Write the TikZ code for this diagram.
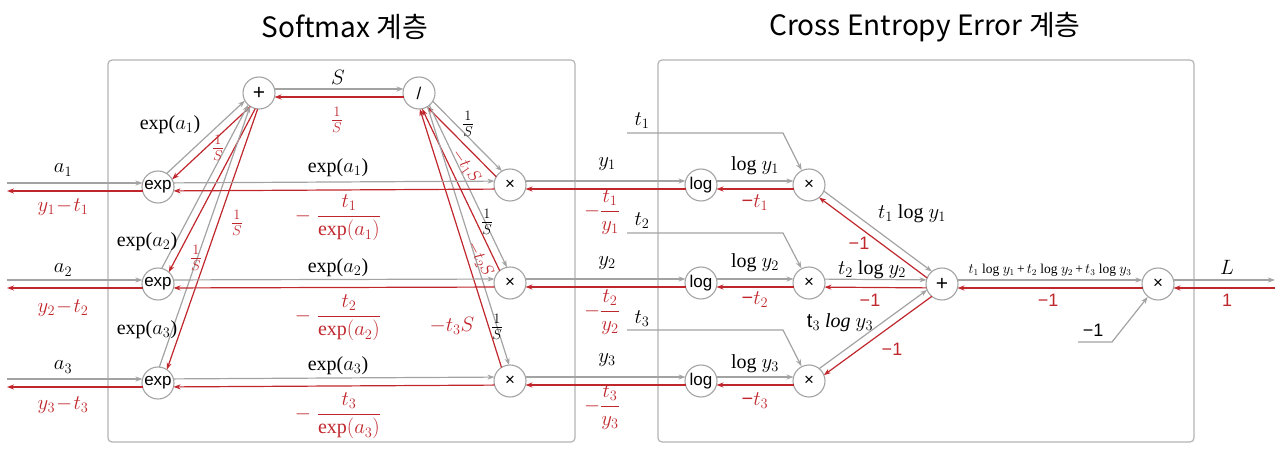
\documentclass[tikz,border=0pt]{standalone}
\usepackage{fontspec}
\setmainfont{Liberation Serif}
\setsansfont{Liberation Sans}
\newfontfamily\kr{Noto Sans CJK KR}
\usetikzlibrary{calc,arrows.meta}
\definecolor{cred}{RGB}{192,39,45}
\definecolor{cgray}{RGB}{163,163,163}
\definecolor{cbox}{RGB}{180,180,180}
\tikzset{
 op/.style={circle, draw=cgray, fill=white, line width=1.1pt, minimum size=32pt, inner sep=0pt, font=\sffamily\fontsize{17}{17}\selectfont},
 lab/.style={font=\fontsize{20}{24}\selectfont, inner sep=1pt},
 rlab/.style={lab, text=cred},
 fr/.style={font=\fontsize{21}{23}\selectfont, inner sep=1pt},
 rfr/.style={fr, text=cred},
 rot/.style={font=\fontsize{18}{20}\selectfont, inner sep=0pt, text=cred},
 slab/.style={font=\sffamily\fontsize{18}{20}\selectfont, inner sep=1pt, text=cred},
 pr/.style={line width=1.2pt, -{Stealth[length=7pt,width=5pt]}, shorten >=15.5pt, shorten <=15.5pt,
   to path={($(\tikztostart)!4pt!90:(\tikztotarget)$) -- ($(\tikztotarget)!4pt!-90:(\tikztostart)$) \tikztonodes}},
 fw/.style={pr, draw=cgray},
 bw/.style={pr, draw=cred},
 pl/.style={line width=1.2pt, draw=cgray, -{Stealth[length=7pt,width=5pt]}},
 layer/.style={draw=cbox, line width=1.2pt, rounded corners=4pt},
 title/.style={font=\kr\fontsize{28}{30}\selectfont}
}
\begin{document}
\begin{tikzpicture}[x=1pt,y=-1pt]
\useasboundingbox (0,0) rectangle (1280,462);
% layers
\node[title] (T1) at (345,27) {Softmax 계층};
\node[title] (T2) at (925,27) {Cross Entropy Error 계층};
\draw[layer] (108,60) rectangle (575,442);
\draw[layer] (658,60) rectangle (1194,442);
% coordinates
\coordinate (in1) at (7,187);
\coordinate (in2) at (7,284);
\coordinate (in3) at (7,383);
\coordinate (Lend) at (1275,284);
\coordinate (t1s) at (627,133);
\coordinate (t1b) at (783,133);
\coordinate (t2s) at (627,233);
\coordinate (t2b) at (783,233);
\coordinate (t3s) at (627,330);
\coordinate (t3b) at (783,330);
\coordinate (ms) at (1078,342);
\coordinate (mb) at (1112,342);
% nodes
\node[op] (exp1) at (158,187) {exp};
\node[op] (exp2) at (158,284) {exp};
\node[op] (exp3) at (158,383) {exp};
\node[op] (plus) at (259,93) {\fontsize{21}{21}\selectfont +};
\node[op] (div) at (419,93) {/};
\node[op] (mul1) at (510,185) {×};
\node[op] (mul2) at (510,283) {×};
\node[op] (mul3) at (510,381) {×};
\node[op] (log1) at (701,185) {log};
\node[op] (log2) at (701,283) {log};
\node[op] (log3) at (701,381) {log};
\node[op] (mb1) at (809,185) {×};
\node[op] (mb2) at (809,283) {×};
\node[op] (mb3) at (809,381) {×};
\node[op] (plus2) at (942,284) {\fontsize{21}{21}\selectfont +};
\node[op] (fmul) at (1158,284) {×};
% inputs
\draw[fw, shorten <=0pt] (in1) to (exp1);
\draw[bw, shorten >=0pt] (exp1) to (in1);
\draw[fw, shorten <=0pt] (in2) to (exp2);
\draw[bw, shorten >=0pt] (exp2) to (in2);
\draw[fw, shorten <=0pt] (in3) to (exp3);
\draw[bw, shorten >=0pt] (exp3) to (in3);
% exp -> plus
\draw[fw] (exp1) to (plus); \draw[bw] (plus) to (exp1);
\draw[fw] (exp2) to (plus); \draw[bw] (plus) to (exp2);
\draw[fw] (exp3) to (plus); \draw[bw] (plus) to (exp3);
% plus -> div
\draw[fw] (plus) to (div); \draw[bw] (div) to (plus);
% div -> mul
\draw[fw] (div) to (mul1); \draw[bw] (mul1) to (div);
\draw[fw] (div) to (mul2); \draw[bw] (mul2) to (div);
\draw[fw] (div) to (mul3); \draw[bw] (mul3) to (div);
% exp -> mul
\draw[fw] (exp1) to (mul1); \draw[bw] (mul1) to (exp1);
\draw[fw] (exp2) to (mul2); \draw[bw] (mul2) to (exp2);
\draw[fw] (exp3) to (mul3); \draw[bw] (mul3) to (exp3);
% mul -> log
\draw[fw] (mul1) to (log1); \draw[bw] (log1) to (mul1);
\draw[fw] (mul2) to (log2); \draw[bw] (log2) to (mul2);
\draw[fw] (mul3) to (log3); \draw[bw] (log3) to (mul3);
% log -> mb
\draw[fw] (log1) to (mb1); \draw[bw] (mb1) to (log1);
\draw[fw] (log2) to (mb2); \draw[bw] (mb2) to (log2);
\draw[fw] (log3) to (mb3); \draw[bw] (mb3) to (log3);
% mb -> plus2
\draw[fw] (mb1) to (plus2); \draw[bw] (plus2) to (mb1);
\draw[fw] (mb2) to (plus2); \draw[bw] (plus2) to (mb2);
\draw[fw] (mb3) to (plus2); \draw[bw] (plus2) to (mb3);
% plus2 -> fmul
\draw[fw] (plus2) to (fmul); \draw[bw] (fmul) to (plus2);
% fmul -> L
\draw[fw, shorten >=0pt] (fmul) to (Lend);
\draw[bw, shorten <=0pt] (Lend) to (fmul);
% t inputs
\draw[pl] (t1s) -- (t1b) -- (mb1);
\draw[pl] (t2s) -- (t2b) -- (mb2);
\draw[pl] (t3s) -- (t3b) -- (mb3);
\draw[pl] (ms) -- (mb) -- (fmul);
% labels left
\node[lab] (la1) at (63,170) {$a_1$};
\node[rlab] (lr1) at (63,207) {$y_1\!-\!t_1$};
\node[lab] (la2) at (63,270) {$a_2$};
\node[rlab] (lr2) at (63,308) {$y_2\!-\!t_2$};
\node[lab] (la3) at (63,367) {$a_3$};
\node[rlab] (lr3) at (63,405) {$y_3\!-\!t_3$};
\node[lab] (le1) at (170,125) {exp($a_1$)};
\node[lab] (le2) at (147,242) {exp($a_2$)};
\node[lab] (le3) at (147,330) {exp($a_3$)};
\node[rfr] (ls1) at (218,148) {$\frac{1}{S}$};
\node[rfr] (ls2) at (196,258) {$\frac{1}{S}$};
\node[rfr] (ls3) at (237,223) {$\frac{1}{S}$};
\node[lab] (lS) at (338,77) {$S$};
\node[rfr] (lSi) at (337,120) {$\frac{1}{S}$};
% middle labels
\node[lab] (lx1) at (338,168) {exp($a_1$)};
\node[lab] (lx2) at (338,268) {exp($a_2$)};
\node[lab] (lx3) at (338,366) {exp($a_3$)};
\node[rlab] (lf1) at (338,218) {$-\;\displaystyle\frac{t_1}{\mathrm{exp}(a_1)}$};
\node[rlab] (lf2) at (338,318) {$-\;\displaystyle\frac{t_2}{\mathrm{exp}(a_2)}$};
\node[rlab] (lf3) at (338,416) {$-\;\displaystyle\frac{t_3}{\mathrm{exp}(a_3)}$};
\node[fr] (ld1) at (468,124) {$\frac{1}{S}$};
\node[fr] (ld2) at (487,222) {$\frac{1}{S}$};
\node[fr] (ld3) at (497,327) {$\frac{1}{S}$};
\node[rot, rotate=-55] (lt1) at (466,166) {$-t_1S$};
\node[rot, rotate=-62] (lt2) at (480,259) {$-t_2S$};
\node[rlab] (lt3) at (452,326) {$-t_3S$};
% y labels
\node[lab] (ly1) at (607,164) {$y_1$};
\node[lab] (ly2) at (607,263) {$y_2$};
\node[lab] (ly3) at (607,360) {$y_3$};
\node[rlab] (lq1) at (602,212) {$-\displaystyle\frac{t_1}{y_1}$};
\node[rlab] (lq2) at (602,312) {$-\displaystyle\frac{t_2}{y_2}$};
\node[rlab] (lq3) at (602,407) {$-\displaystyle\frac{t_3}{y_3}$};
% right layer labels
\node[lab] (lt1i) at (642,121) {$t_1$};
\node[lab] (lt2i) at (642,221) {$t_2$};
\node[lab] (lt3i) at (642,319) {$t_3$};
\node[lab] (lg1) at (755,166) {log $y_1$};
\node[lab] (lg2) at (755,263) {log $y_2$};
\node[lab] (lg3) at (755,364) {log $y_3$};
\node[rlab] (ln1) at (755,203) {\textsf{−}$t_1$};
\node[rlab] (ln2) at (755,300) {\textsf{−}$t_2$};
\node[rlab] (ln3) at (755,401) {\textsf{−}$t_3$};
\node[lab] (lp1) at (912,214) {$t_1$ log $y_1$};
\node[lab] (lp2) at (872,270) {$t_2$ log $y_2$};
\node[lab] (lp3) at (840,323) {\textsf{t}$_3$ \textit{log} $y_3$};
\node[slab] (lm1) at (859,243) {−1};
\node[slab] (lm2) at (870,300) {−1};
\node[slab] (lm3) at (892,349) {−1};
\node[lab, font=\fontsize{13.5}{15}\selectfont] (lsum) at (1050,270) {$t_1$ log $y_1$\,+\,$t_2$ log $y_2$\,+\,$t_3$ log $y_3$};
\node[slab] (lm4) at (1048,300) {−1};
\node[slab, text=black] (lm5) at (1093,330) {−1};
\node[lab] (lL) at (1227,267) {$L$};
\node[slab] (lone) at (1227,300) {1};
\end{tikzpicture}
\end{document}
